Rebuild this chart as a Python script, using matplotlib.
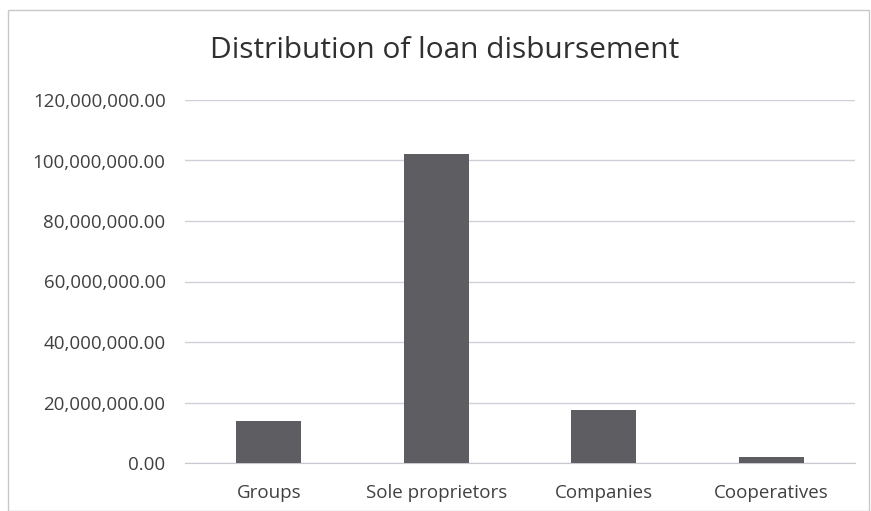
import matplotlib
matplotlib.use("Agg")
import matplotlib.pyplot as plt
from matplotlib.ticker import FuncFormatter, MultipleLocator
from matplotlib.patches import Rectangle

categories = ["Groups", "Sole proprietors", "Companies", "Cooperatives"]
values = [13_900_000, 102_100_000, 17_500_000, 1_900_000]

plt.rcParams['font.family'] = ['Open Sans', 'DejaVu Sans']

fig = plt.figure(figsize=(8.71, 5.11), dpi=100)
ax = fig.add_axes([185/871, 1 - 463/511, 670/871, 363/511])

x = list(range(len(categories)))
ax.bar(x, values, width=0.39, color="#5e5e62", zorder=3)
ax.set_xlim(-0.5, len(categories) - 0.5)
ax.set_ylim(0, 120_000_000)
ax.yaxis.set_major_locator(MultipleLocator(20_000_000))
ax.yaxis.set_major_formatter(FuncFormatter(lambda v, p: f"{v:,.2f}"))
ax.set_xticks(x)
ax.set_xticklabels(categories)
ax.tick_params(axis='both', length=0, labelsize=13.5, colors="#404040")
ax.tick_params(axis='x', pad=15)
ax.tick_params(axis='y', pad=14)
ax.grid(axis='y', color="#d0d0d8", linewidth=1, zorder=0)
for s in ["top", "right", "left"]:
    ax.spines[s].set_visible(False)
ax.spines["bottom"].set_color("#c8c8d0")

fig.text(445/871, 1 - 50/511, "Distribution of loan disbursement", ha="center", va="center",
         fontsize=21.5, color="#303030")

fig.patches.append(Rectangle((8/871, 0), 1 - 8/871 - 0.002, 1 - 10/511, transform=fig.transFigure,
                             fill=False, edgecolor="#c8c8c8", linewidth=1))

fig.savefig("out.png", dpi=100)
